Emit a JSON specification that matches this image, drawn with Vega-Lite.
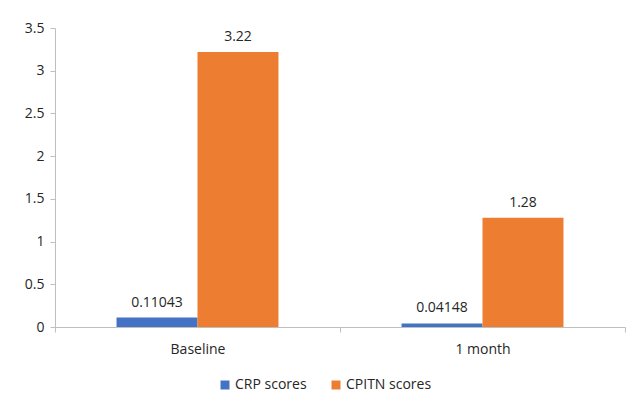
{
  "$schema": "https://vega.github.io/schema/vega-lite/v6.json",
  "autosize": "none",
  "width": 570,
  "height": 299,
  "padding": {"left": 55, "top": 28, "right": 11, "bottom": 88},
  "background": "white",
  "config": {
    "font": "Liberation Sans",
    "view": {"stroke": null},
    "axis": {"labelFont": "Open Sans", "labelFontSize": 14, "labelColor": "#262626", "domainColor": "#BFBFBF", "tickColor": "#BFBFBF", "grid": false, "title": null},
    "legend": {"labelFont": "Open Sans", "labelFontSize": 14, "labelColor": "#262626"}
  },
  "data": {
    "values": [
      {"time": "Baseline", "series": "CRP scores", "value": 0.11043, "label": "0.11043"},
      {"time": "Baseline", "series": "CPITN scores", "value": 3.22, "label": "3.22"},
      {"time": "1 month", "series": "CRP scores", "value": 0.04148, "label": "0.04148"},
      {"time": "1 month", "series": "CPITN scores", "value": 1.28, "label": "1.28"}
    ]
  },
  "encoding": {
    "x": {"field": "time", "type": "nominal", "sort": ["Baseline", "1 month"],
          "scale": {"paddingInner": 0, "paddingOuter": 0},
          "axis": {"labelAngle": 0, "tickBand": "extent", "tickSize": 5, "labelPadding": 10}},
    "xOffset": {"field": "series", "type": "nominal", "sort": ["CRP scores", "CPITN scores"],
                "scale": {"paddingInner": 0, "paddingOuter": 0.76}},
    "y": {"field": "value", "type": "quantitative",
          "scale": {"domain": [0, 3.5], "nice": false},
          "axis": {"values": [0, 0.5, 1, 1.5, 2, 2.5, 3, 3.5], "tickSize": 5, "labelPadding": 6, "labelExpr": "datum.value"}}
  },
  "layer": [
    {
      "mark": {"type": "bar"},
      "encoding": {
        "color": {"field": "series", "type": "nominal", "sort": ["CRP scores", "CPITN scores"],
                  "scale": {"domain": ["CRP scores", "CPITN scores"], "range": ["#4472C4", "#ED7D31"]},
                  "legend": {"orient": "none", "legendX": 163, "legendY": 350, "direction": "horizontal", "title": null, "symbolType": "square", "symbolSize": 81, "symbolStrokeWidth": 0, "columnPadding": 22, "labelOffset": 3}}
      }
    },
    {
      "mark": {"type": "text", "dy": -15, "font": "Open Sans", "fontSize": 14, "color": "#262626"},
      "encoding": {"text": {"field": "label"}}
    }
  ]
}
